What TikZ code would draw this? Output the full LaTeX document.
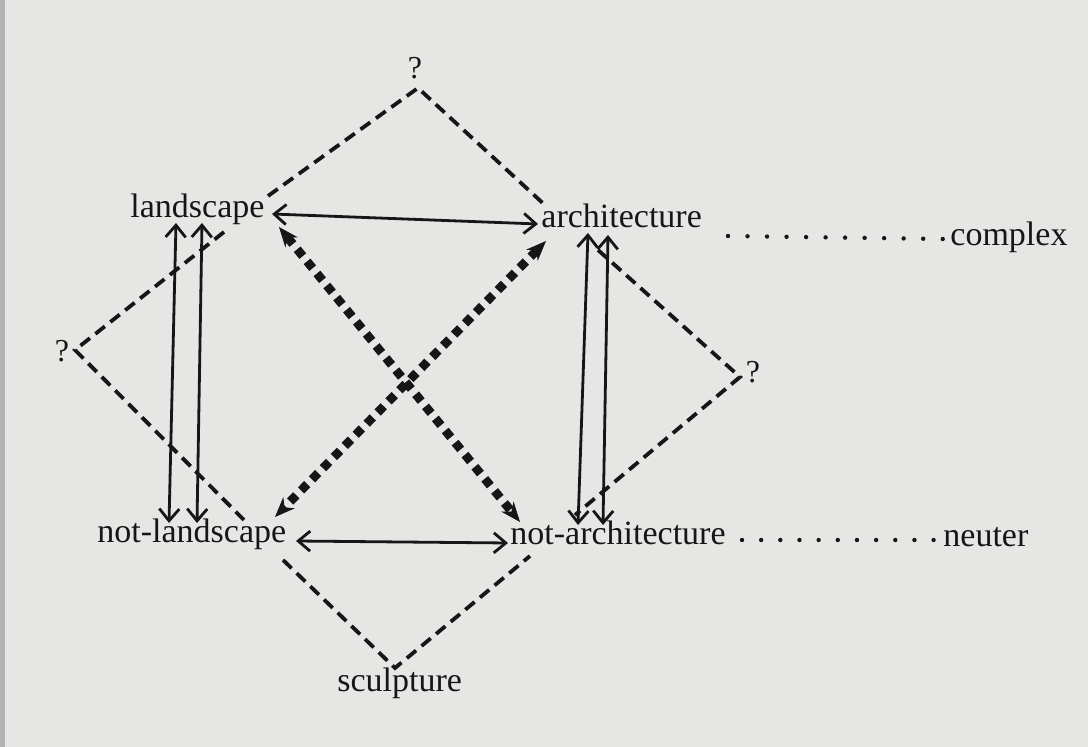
\documentclass[tikz,border=0pt]{standalone}
\usepackage{fontspec}
\setmainfont{Liberation Serif}
\usetikzlibrary{arrows.meta}
\definecolor{paper}{RGB}{230,230,228}
\definecolor{ink}{RGB}{22,22,22}
\begin{document}
\begin{tikzpicture}[x=0.5pt,y=-0.5pt,
  lbl/.style={font=\fontsize{17}{20}\selectfont, inner sep=0pt, text=ink, anchor=base west},
  qm/.style={font=\fontsize{16}{19}\selectfont, inner sep=0pt, text=ink, anchor=base},
  dashln/.style={draw=ink, line width=1.9pt, dash pattern=on 6pt off 3.5pt},
  solidarr/.style={draw=ink, line width=1.4pt, {Straight Barb[length=6pt,width=10pt]}-{Straight Barb[length=6pt,width=10pt]}},
  dotarr/.style={draw=ink, line width=4.4pt, dash pattern=on 4.4pt off 3.4pt,
     {Stealth[length=10pt,width=8pt,line width=0.4pt]}-{Stealth[length=10pt,width=8pt,line width=0.4pt]}},
  dotln/.style={draw=ink, line width=2.2pt, line cap=round, dash pattern=on 0pt off #1},
  dotln/.default=9.6pt]

\fill[paper] (0,0) rectangle (1088,747);
\fill[black!30] (0,0) rectangle (5,747);

% labels
\node[lbl] (land)  at (130,218) {landscape};
\node[lbl] (arch)  at (541,228) {architecture};
\node[lbl] (cplx)  at (950,246) {complex};
\node[lbl] (nland) at (97,543)  {not-landscape};
\node[lbl] (narch) at (510,545) {not-architecture};
\node[lbl] (neut)  at (943,547) {neuter};
\node[lbl] (sculp) at (337,692) {sculpture};
\node[qm] (qtop)   at (415,79)  {?};
\node[qm] (qleft)  at (62,362)  {?};
\node[qm] (qright) at (753,383) {?};

% diamond vertices
\coordinate (vt) at (418,88);
\coordinate (vl) at (75,350);
\coordinate (vr) at (740,377);
\coordinate (vb) at (395,668);

% dashed-line ends near the terms
\coordinate (dLandTop) at (268,196);
\coordinate (dArchTop) at (547,207);
\coordinate (dLandLow) at (224,232);
\coordinate (dNlandUp) at (244,520);
\coordinate (dArchLow) at (598,250);
\coordinate (dNarchUp) at (575,515);
\coordinate (dNlandLow) at (283,560);
\coordinate (dNarchLow) at (530,556);

\draw[dashln] (dLandTop) -- (vt) -- (dArchTop);
\draw[dashln] (dLandLow) -- (vl) -- (dNlandUp);
\draw[dashln] (dArchLow) -- (vr) -- (dNarchUp);
\draw[dashln] (dNlandLow) -- (vb) -- (dNarchLow);

% arrow ends
\coordinate (aLandE) at (272,214);
\coordinate (aArchW) at (538,224);
\coordinate (aNlandE) at (296,541);
\coordinate (aNarchW) at (508,543);
\coordinate (aL1t) at (176,223);
\coordinate (aL1b) at (169,523);
\coordinate (aL2t) at (202,223);
\coordinate (aL2b) at (197,523);
\coordinate (aR1t) at (588,233);
\coordinate (aR1b) at (578,525);
\coordinate (aR2t) at (608,235);
\coordinate (aR2b) at (603,525);

\draw[solidarr] (aLandE) -- (aArchW);
\draw[solidarr] (aNlandE) -- (aNarchW);
\draw[solidarr] (aL1t) -- (aL1b);
\draw[solidarr] (aL2t) -- (aL2b);
\draw[solidarr] (aR1t) -- (aR1b);
\draw[solidarr] (aR2t) -- (aR2b);

% dotted diagonals
\coordinate (xLand) at (279,227);
\coordinate (xNarch) at (520,522);
\coordinate (xArch) at (546,241);
\coordinate (xNland) at (275,517);
\draw[dotarr] (xLand) -- (xNarch);
\draw[dotarr] (xArch) -- (xNland);

% dotted leaders
\coordinate (lArch) at (728,236);
\coordinate (lCplx) at (943,239);
\coordinate (lNarch) at (742,540);
\coordinate (lNeut) at (934,540);
\draw[dotln=9.76pt] (lArch) -- (lCplx);
\draw[dotln=9.58pt] (lNarch) -- (lNeut);
\end{tikzpicture}
\end{document}
